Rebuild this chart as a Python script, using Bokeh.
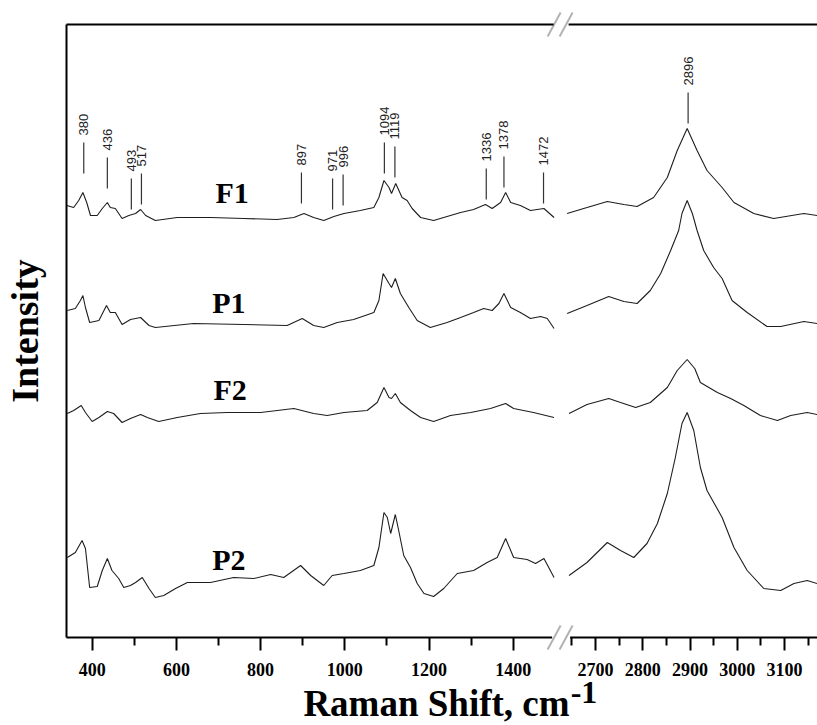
import math
from bokeh.plotting import figure
from bokeh.models import Range1d, FixedTicker, PolyAnnotation, LinearAxis
from bokeh.core.properties import value
from bokeh.embed import file_html
from bokeh.resources import INLINE

# ---------------- data (Raman shift in cm-1, stacked intensity in a.u.) ----------------
# low-wavenumber window
f1_lo_x = [340, 356, 368, 378, 387, 396, 412, 424, 436, 443, 455, 471, 487, 503, 515, 527, 550, 602, 681, 760,
           839, 879, 903, 926, 950, 974, 998, 1037, 1069, 1081, 1093, 1105, 1111, 1121, 1136, 1148, 1160, 1180, 1211, 1243,
           1275, 1306, 1334, 1350, 1370, 1382, 1394, 1417, 1441, 1473, 1497]
f1_lo_y = [432, 430, 437, 445, 435, 422, 422, 429, 435, 430, 429, 419, 422, 424, 428, 422, 417, 420, 420, 419,
           418, 420, 424, 420, 417, 421, 424, 427, 430, 440, 457, 450, 444, 454, 440, 437, 429, 420, 417, 421,
           425, 428, 433, 429, 435, 445, 435, 432, 427, 429, 420]

p1_lo_x = [341, 360, 372, 378, 384, 394, 416, 434, 443, 455, 471, 491, 515, 535, 550, 641, 760, 863, 899, 926,
           950, 982, 1021, 1069, 1081, 1091, 1105, 1111, 1120, 1132, 1152, 1172, 1203, 1243, 1275, 1306, 1330, 1350, 1366, 1378,
           1394, 1417, 1441, 1465, 1481, 1497]
p1_lo_y = [327, 329, 337, 342, 330, 315, 317, 332, 325, 325, 313, 318, 320, 312, 310, 314, 313, 312, 319, 312,
           310, 315, 318, 325, 337, 364, 354, 350, 359, 344, 330, 317, 310, 315, 320, 325, 329, 327, 334, 344,
           330, 325, 319, 321, 319, 309]

f2_lo_x = [341, 356, 374, 384, 400, 416, 436, 451, 471, 491, 515, 531, 558, 602, 657, 721, 800, 879, 926, 958,
           998, 1053, 1077, 1093, 1105, 1111, 1120, 1132, 1156, 1180, 1211, 1251, 1299, 1346, 1382, 1401, 1448, 1497]
f2_lo_y = [224, 227, 232, 225, 216, 220, 226, 224, 215, 219, 223, 220, 216, 220, 224, 225, 225, 229, 224, 222,
           225, 227, 235, 250, 240, 239, 244, 235, 227, 220, 216, 222, 225, 229, 234, 229, 225, 220]

p2_lo_x = [341, 360, 376, 384, 394, 412, 424, 436, 447, 463, 475, 491, 503, 519, 535, 550, 570, 598, 626, 681,
           736, 784, 824, 855, 895, 919, 950, 970, 998, 1037, 1069, 1081, 1093, 1101, 1109, 1120, 1128, 1140, 1156, 1172,
           1188, 1211, 1235, 1267, 1306, 1338, 1362, 1382, 1401, 1433, 1453, 1473, 1497]
p2_lo_y = [80, 85, 97, 89, 50, 51, 67, 79, 67, 59, 50, 52, 55, 60, 49, 40, 42, 49, 55, 55,
           60, 59, 63, 60, 72, 62, 52, 62, 64, 67, 72, 90, 125, 120, 104, 123, 107, 82, 70, 54,
           44, 41, 49, 64, 67, 75, 80, 99, 80, 78, 74, 79, 60]

# high-wavenumber window
f1_hi_x = [2640, 2675, 2725, 2760, 2788, 2823, 2852, 2873, 2894, 2915, 2936, 2968, 2993, 3035, 3077, 3141, 3169]
f1_hi_y = [424, 429, 436, 433, 431, 440, 460, 487, 509, 487, 467, 450, 435, 424, 419, 424, 422]

p1_hi_x = [2640, 2682, 2728, 2760, 2788, 2816, 2838, 2859, 2876, 2883, 2894, 2905, 2915, 2929, 2950, 2968, 2989, 3021,
           3063, 3092, 3141, 3169]
p1_hi_y = [324, 332, 341, 336, 334, 347, 364, 387, 407, 424, 437, 424, 407, 387, 370, 359, 337, 325,
           311, 311, 316, 314]

f2_hi_x = [2644, 2682, 2728, 2753, 2785, 2816, 2852, 2873, 2894, 2910, 2922, 2958, 2986, 3014, 3049, 3085, 3113, 3148, 3169]
f2_hi_y = [224, 233, 239, 235, 230, 235, 250, 267, 278, 269, 255, 245, 239, 232, 222, 217, 222, 225, 223]

p2_hi_x = [2644, 2682, 2725, 2753, 2781, 2809, 2831, 2852, 2869, 2883, 2894, 2908, 2922, 2936, 2968, 2993, 3021, 3056,
           3092, 3120, 3148, 3169]
p2_hi_y = [62, 75, 95, 87, 80, 94, 114, 144, 180, 214, 225, 207, 170, 147, 120, 90, 67, 49,
           47, 54, 57, 54]

# sample names and where they are written
sample_names = ["F1", "P1", "F2", "P2"]
sample_label_x = [693, 685, 688, 685]
sample_label_y = [445, 335, 248, 78]

# assigned peaks (marker foot above the F1 trace)
peaks_lo = [380, 436, 493, 517, 897, 971, 996, 1094, 1119, 1336, 1378, 1472]
peaks_lo_base = [464, 449, 428, 433, 434, 428, 432, 464, 460, 438, 450, 434]
peaks_hi = [2896]
peaks_hi_base = [514]

# axis ticks
ticks_lo = [400, 600, 800, 1000, 1200, 1400]
minor_lo = [500, 700, 900, 1100, 1300]
ticks_hi = [2700, 2800, 2900, 3000, 3100]
minor_hi = [2650, 2750, 2850, 2950, 3050, 3150]

x_title = "Raman Shift, cm"
x_title_sup = "-1"
y_title = "Intensity"

# ---------------- layout constants ----------------
W, H = 817, 725
AX_X, AX_Y, TOP_Y = 66, 637, 24          # pixel position of the axes box
S_LO, S_HI = 0.42103, 0.4725             # px per cm-1 in the two windows
LO_START = 339.0 - AX_X / S_LO
LO = (LO_START, LO_START + W / S_LO)     # main x range (low window) over the whole canvas
HI_START = 2700.0 - 595 / S_HI
HI = (HI_START, HI_START + W / S_HI)     # extra x range (high window)
Y_RANGE = (-(H - AX_Y), float(AX_Y))     # 1 unit = 1 px, 0 at the axis
Y_TOP = float(AX_Y - TOP_Y)
X_LEFT = 339.0
BREAK_LO = 1490.0                        # where the low window's axis stops
MARK_LEN = 31
TEXT_GAP = 7

SERIF = "Liberation Serif"
LINE_COLOR = "#1e1e1e"


def hi_to_lo(x):
    return LO[0] + (x - HI[0]) * (LO[1] - LO[0]) / (HI[1] - HI[0])


def px_to_lo(px):
    return LO[0] + px / S_LO


def lo_px(dpx):
    return BREAK_LO + dpx / S_LO


p = figure(width=W, height=H, x_range=Range1d(*LO), y_range=Range1d(*Y_RANGE),
           output_backend="svg", toolbar_location=None,
           min_border_left=0, min_border_right=0, min_border_top=0, min_border_bottom=0)
p.extra_x_ranges = {"hi": Range1d(*HI)}
p.outline_line_color = None
p.grid.visible = False
p.background_fill_color = "white"
p.border_fill_color = "white"

# spectra
for xs, ys in [(f1_lo_x, f1_lo_y), (p1_lo_x, p1_lo_y), (f2_lo_x, f2_lo_y), (p2_lo_x, p2_lo_y)]:
    p.line(xs, ys, line_color=LINE_COLOR, line_width=1.1)
for xs, ys in [(f1_hi_x, f1_hi_y), (p1_hi_x, p1_hi_y), (f2_hi_x, f2_hi_y), (p2_hi_x, p2_hi_y)]:
    p.line(xs, ys, line_color=LINE_COLOR, line_width=1.1, x_range_name="hi")

# peak markers
PEAK_FONT = value("Liberation Sans")
p.segment(x0=peaks_lo, y0=peaks_lo_base, x1=peaks_lo, y1=[b + MARK_LEN for b in peaks_lo_base],
          line_color="#333333", line_width=1.2)
p.text(x=peaks_lo, y=[b + MARK_LEN + TEXT_GAP for b in peaks_lo_base], text=[str(v) for v in peaks_lo],
       angle=math.pi / 2, text_align="left", text_baseline="middle",
       text_font=PEAK_FONT, text_font_size="13px", text_color="#222222")
p.segment(x0=peaks_hi, y0=peaks_hi_base, x1=peaks_hi, y1=[b + MARK_LEN for b in peaks_hi_base],
          line_color="#333333", line_width=1.2, x_range_name="hi")
p.text(x=peaks_hi, y=[b + MARK_LEN + TEXT_GAP for b in peaks_hi_base], text=[str(v) for v in peaks_hi],
       angle=math.pi / 2, text_align="left", text_baseline="middle",
       text_font=PEAK_FONT, text_font_size="13px", text_color="#222222",
       x_range_name="hi")

# sample names
p.text(x=sample_label_x, y=sample_label_y, text=sample_names, text_align="left", text_baseline="alphabetic",
       text_font=value(SERIF), text_font_style="bold", text_font_size="30px", text_color="black")

# box lines (broken at the axis break)
p.line([X_LEFT, lo_px(1)], [0, 0], line_color="black", line_width=2)
p.line([lo_px(19), LO[1]], [0, 0], line_color="black", line_width=2)
p.line([X_LEFT, lo_px(2.5)], [Y_TOP, Y_TOP], line_color="black", line_width=2)
p.line([lo_px(17.5), LO[1]], [Y_TOP, Y_TOP], line_color="black", line_width=2)

# break marks //
for yc in (0.0, Y_TOP):
    for cpx in (3.0, 15.0):
        p.add_layout(PolyAnnotation(xs=[lo_px(cpx - 6.5), lo_px(cpx + 6.5)],
                                    ys=[yc - 12, yc + 12],
                                    fill_color=None, fill_alpha=0, line_color="black", line_width=2))

# x axis with ticks of both windows (drawn at the box bottom)
major = [float(t) for t in ticks_lo] + [hi_to_lo(t) for t in ticks_hi]
minor = [float(t) for t in minor_lo] + [hi_to_lo(t) for t in minor_hi]
overrides = {}
for pos, lab in zip(major, [str(t) for t in ticks_lo] + [str(t) for t in ticks_hi]):
    overrides[pos] = lab
xa = p.xaxis[0]
xa.fixed_location = 0
xa.ticker = FixedTicker(ticks=major, minor_ticks=minor)
xa.major_label_overrides = overrides
xa.axis_line_color = None
xa.major_tick_in = 0
xa.major_tick_out = 13
xa.minor_tick_in = 0
xa.minor_tick_out = 8
xa.major_tick_line_width = 2
xa.minor_tick_line_width = 2
xa.major_tick_line_color = "black"
xa.minor_tick_line_color = "black"
xa.major_label_standoff = 12
xa.major_label_text_font = SERIF
xa.major_label_text_font_style = "bold"
xa.major_label_text_font_size = "18px"
xa.major_label_text_color = "black"

# second (label-only) axis: superscript as its single label, title as its axis label
sup_pos = px_to_lo(583.5)
xb = LinearAxis(ticker=FixedTicker(ticks=[sup_pos], minor_ticks=[]),
                major_label_overrides={sup_pos: x_title_sup})
xb.fixed_location = 0
xb.bounds = (px_to_lo(AX_X), px_to_lo(806))
xb.axis_line_color = None
xb.major_tick_line_color = None
xb.minor_tick_line_color = None
xb.major_tick_out = 0
xb.major_tick_in = 0
xb.minor_tick_out = 0
xb.minor_tick_in = 0
xb.major_label_standoff = 44
xb.major_label_text_font = SERIF
xb.major_label_text_font_style = "bold"
xb.major_label_text_font_size = "32px"
xb.major_label_text_color = "black"
xb.axis_label = x_title
xb.axis_label_standoff = -23
xb.axis_label_text_font = SERIF
xb.axis_label_text_font_style = "bold"
xb.axis_label_text_font_size = "37px"
xb.axis_label_text_color = "black"
p.add_layout(xb, "below")

# y axis: line and title only
ya = p.yaxis[0]
ya.fixed_location = X_LEFT
ya.bounds = (0, Y_TOP)
ya.ticker = FixedTicker(ticks=[])
ya.major_tick_out = 0
ya.major_tick_in = 0
ya.minor_tick_out = 0
ya.axis_line_width = 2
ya.axis_line_color = "black"
ya.axis_label = y_title
ya.axis_label_text_font = SERIF
ya.axis_label_text_font_style = "bold"
ya.axis_label_text_font_size = "38px"
ya.axis_label_text_color = "black"
ya.axis_label_standoff = 21

open("out.html", "w").write(file_html(p, INLINE))
